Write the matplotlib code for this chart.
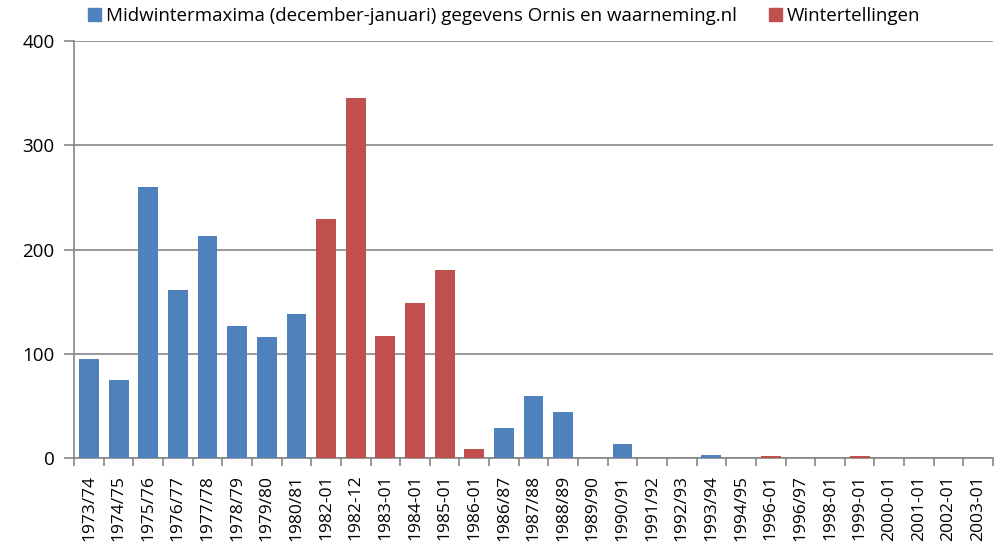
import matplotlib
matplotlib.use("Agg")
import matplotlib.pyplot as plt
import numpy as np
from matplotlib.patches import Patch

# seizoenen langs de x-as
labels = ["1973/74", "1974/75", "1975/76", "1976/77", "1977/78", "1978/79",
          "1979/80", "1980/81", "1982-01", "1982-12", "1983-01", "1984-01",
          "1985-01", "1986-01", "1986/87", "1987/88", "1988/89", "1989/90",
          "1990/91", "1991/92", "1992/93", "1993/94", "1994/95", "1996-01",
          "1996/97", "1998-01", "1999-01", "2000-01", "2001-01", "2002-01",
          "2003-01"]

# midwintermaxima (blauw)
midwinter = [95, 75, 260, 161, 213, 127, 116, 138, 0, 0, 0, 0,
             0, 0, 29, 60, 44, 0, 14, 0, 0, 3, 0, 0,
             0, 0, 0, 0, 0, 0, 0]
# wintertellingen (rood)
winter = [0, 0, 0, 0, 0, 0, 0, 0, 229, 345, 117, 149,
          180, 9, 0, 0, 0, 0, 0, 0, 0, 0, 0, 2,
          0, 0, 2, 0, 0, 0, 0]

blue = "#4f81bd"
red = "#c0504d"
grey = "#868686"

plt.rcParams['font.family'] = ['Open Sans', 'DejaVu Sans']

fig = plt.figure(figsize=(10.02, 5.56), dpi=100)
ax = fig.add_axes([0.074, 0.176, 0.917, 0.75])

x = np.arange(len(labels))
ax.bar(x, midwinter, width=0.67, color=blue, zorder=3)
ax.bar(x, winter, width=0.67, color=red, zorder=3)

ax.set_xlim(-0.5, len(labels) - 0.5)
ax.set_ylim(0, 400)
ax.set_yticks([0, 100, 200, 300, 400])
ax.yaxis.grid(True, color=grey, linewidth=1.2, zorder=0)

# tick marks between categories, labels centered
ax.set_xticks(np.arange(len(labels) + 1) - 0.5)
ax.set_xticklabels([])
ax.set_xticks(x, minor=True)
ax.set_xticklabels(labels, minor=True, rotation=90, fontsize=12.5)
ax.tick_params(axis="x", which="minor", length=0, pad=12)
ax.tick_params(axis="x", which="major", length=6, color=grey, width=1.2)
ax.tick_params(axis="y", length=7, color=grey, width=1.2, labelsize=13.5, pad=7)

for s in ["top", "right"]:
    ax.spines[s].set_visible(False)
ax.spines["left"].set_color(grey)
ax.spines["left"].set_linewidth(1.2)
ax.spines["bottom"].set_color(grey)
ax.spines["bottom"].set_linewidth(1.2)

handles = [Patch(color=blue, label="Midwintermaxima (december-januari) gegevens Ornis en waarneming.nl"),
           Patch(color=red, label="Wintertellingen")]
fig.legend(handles=handles, loc="upper left", bbox_to_anchor=(0.071, 1.017), ncol=2,
           frameon=False, fontsize=13.5, handlelength=0.7, handleheight=0.7,
           handletextpad=0.25, columnspacing=1.7)

fig.savefig("out.png", dpi=100)
